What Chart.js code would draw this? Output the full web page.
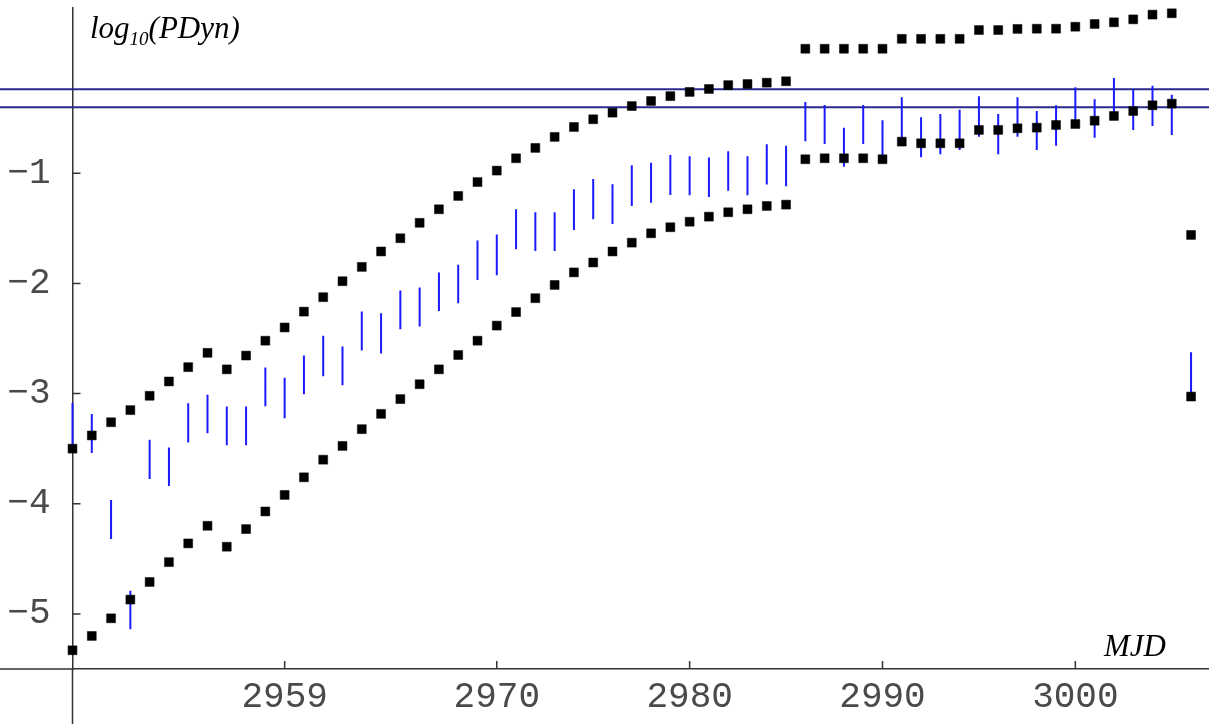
<!DOCTYPE html>
<html>
<head>
<meta charset="utf-8">
<title>log10(PDyn) vs MJD</title>
<script src="https://cdn.jsdelivr.net/npm/chart.js@4/dist/chart.umd.min.js"></script>
<style>
  body { margin: 0; background: #fff; }
  #chart { display: block; }
</style>
</head>
<body>
<canvas id="chart" width="1209" height="724"></canvas>
<script>
// MJD of each night
const mjd = [2948, 2949, 2950, 2951, 2952, 2953, 2954, 2955, 2956, 2957,
  2958, 2959, 2960, 2961, 2962, 2963, 2964, 2965, 2966, 2967,
  2968, 2969, 2970, 2971, 2972, 2973, 2974, 2975, 2976, 2977,
  2978, 2979, 2980, 2981, 2982, 2983, 2984, 2985, 2986, 2987,
  2988, 2989, 2990, 2991, 2992, 2993, 2994, 2995, 2996, 2997,
  2998, 2999, 3000, 3001, 3002, 3003, 3004, 3005, 3006];

// upper black envelope
const upperLimit = [-3.50, -3.38, -3.26, -3.15, -3.02, -2.89, -2.76, -2.63, -2.78, -2.655,
  -2.52, -2.40, -2.256, -2.125, -1.98, -1.85, -1.71, -1.59, -1.45, -1.327,
  -1.206, -1.08, -0.976, -0.864, -0.77, -0.67, -0.58, -0.51, -0.45, -0.39,
  -0.344, -0.30, -0.262, -0.235, -0.20, -0.19, -0.178, -0.165, 0.13, 0.13,
  0.13, 0.13, 0.13, 0.22, 0.22, 0.22, 0.22, 0.30, 0.30, 0.31,
  0.312, 0.312, 0.33, 0.355, 0.37, 0.397, 0.44, 0.452, -1.56];

// lower black envelope
const lowerLimit = [-5.33, -5.20, -5.04, -4.87, -4.71, -4.53, -4.36, -4.20, -4.39, -4.23,
  -4.07, -3.92, -3.76, -3.60, -3.475, -3.323, -3.184, -3.05, -2.915, -2.78,
  -2.65, -2.52, -2.383, -2.26, -2.134, -2.014, -1.90, -1.81, -1.71, -1.63,
  -1.545, -1.49, -1.44, -1.394, -1.354, -1.327, -1.297, -1.285, -0.873, -0.864,
  -0.864, -0.864, -0.873, -0.713, -0.728, -0.728, -0.728, -0.607, -0.607, -0.592,
  -0.586, -0.562, -0.553, -0.523, -0.48, -0.435, -0.383, -0.368, -3.027];

// blue ranges (bottom / top)
const rangeLow = [-3.485, -3.54, -4.32, -5.14, -3.775, -3.84, -3.445, -3.36, -3.47, -3.47,
  -3.114, -3.223, -3.005, -2.842, -2.924, -2.61, -2.637, -2.416, -2.39, -2.25,
  -2.18, -1.97, -1.926, -1.69, -1.705, -1.705, -1.515, -1.417, -1.46, -1.297,
  -1.267, -1.197, -1.2, -1.215, -1.158, -1.2, -1.103, -1.118, -0.71, -0.734,
  -0.94, -0.734, -0.879, -0.71, -0.855, -0.828, -0.789, -0.668, -0.828, -0.668,
  -0.789, -0.75, -0.577, -0.677, -0.50, -0.607, -0.571, -0.652, -3.027];
const rangeHigh = [-3.085, -3.185, -3.965, -4.79, -3.42, -3.49, -3.087, -3.01, -3.118, -3.118,
  -2.764, -2.857, -2.655, -2.474, -2.573, -2.256, -2.27, -2.065, -2.038, -1.90,
  -1.83, -1.61, -1.557, -1.327, -1.354, -1.354, -1.145, -1.052, -1.10, -0.927,
  -0.904, -0.834, -0.846, -0.858, -0.80, -0.846, -0.737, -0.75, -0.353, -0.38,
  -0.586, -0.38, -0.519, -0.31, -0.492, -0.462, -0.423, -0.30, -0.462, -0.31,
  -0.435, -0.383, -0.22, -0.329, -0.135, -0.238, -0.205, -0.287, -2.624];

// horizontal reference levels
const refLevels = [-0.238, -0.40];

const xTicks = [2959, 2970, 2980, 2990, 3000];
const yTicks = [-5, -4, -3, -2, -1];

const axisColor = '#333';
const labelColor = '#4a4a4a';
const tickFont = { family: 'Liberation Mono', size: 36 };

// vertical segments, one per night, broken by nulls
const rangeSegs = [];
mjd.forEach((m, i) => {
  rangeSegs.push({ x: m, y: rangeLow[i] });
  rangeSegs.push({ x: m, y: rangeHigh[i] });
  rangeSegs.push({ x: m, y: null });
});

// no extra room for end labels
const noPad = s => { s.paddingTop = 0; s.paddingBottom = 0; s.paddingLeft = 0; s.paddingRight = 0; };

const extras = {
  id: 'extras',
  beforeDatasetsDraw(chart) {
    const { ctx, chartArea, scales } = chart;
    ctx.save();
    ctx.strokeStyle = '#2a2a8c';
    ctx.lineWidth = 2;
    refLevels.forEach(v => {
      const py = scales.y.getPixelForValue(v);
      ctx.beginPath();
      ctx.moveTo(0, py);
      ctx.lineTo(chart.width, py);
      ctx.stroke();
    });
    ctx.strokeStyle = axisColor;
    ctx.lineWidth = 1.5;
    ctx.beginPath();
    // axis lines run on past the crossing point
    ctx.moveTo(0, chartArea.bottom);
    ctx.lineTo(chartArea.left, chartArea.bottom);
    ctx.moveTo(chartArea.left, chartArea.bottom);
    ctx.lineTo(chartArea.left, chart.height);
    // inward tick marks
    scales.x.ticks.forEach(t => {
      const px = scales.x.getPixelForValue(t.value);
      ctx.moveTo(px, chartArea.bottom);
      ctx.lineTo(px, chartArea.bottom - 8);
    });
    scales.y.ticks.forEach(t => {
      const py = scales.y.getPixelForValue(t.value);
      ctx.moveTo(chartArea.left, py);
      ctx.lineTo(chartArea.left + 8, py);
    });
    ctx.stroke();
    ctx.restore();
  },
  afterDraw(chart) {
    const ctx = chart.ctx;
    ctx.save();
    ctx.fillStyle = '#000';
    ctx.textBaseline = 'alphabetic';
    ctx.textAlign = 'left';
    const big = 'italic 31px "Liberation Serif"';
    const small = 'italic 19px "Liberation Serif"';
    let x = 90;
    ctx.font = big;
    ctx.fillText('log', x, 38);
    x += ctx.measureText('log').width;
    ctx.font = small;
    ctx.fillText('10', x, 45);
    x += ctx.measureText('10').width;
    ctx.font = big;
    ctx.fillText('(PDyn)', x, 38);
    ctx.fillText('MJD', 1104, 656);
    ctx.restore();
  }
};

new Chart(document.getElementById('chart'), {
  type: 'scatter',
  data: {
    datasets: [
      {
        label: 'upper',
        data: mjd.map((m, i) => ({ x: m, y: upperLimit[i] })),
        pointStyle: 'rect',
        pointRadius: 6.3,
        backgroundColor: '#000',
        borderColor: '#000',
        borderWidth: 0.5,
        clip: false
      },
      {
        label: 'lower',
        data: mjd.map((m, i) => ({ x: m, y: lowerLimit[i] })),
        pointStyle: 'rect',
        pointRadius: 6.3,
        backgroundColor: '#000',
        borderColor: '#000',
        borderWidth: 0.5,
        clip: false
      },
      {
        type: 'line',
        label: 'range',
        data: rangeSegs,
        showLine: true,
        spanGaps: false,
        borderColor: '#1a1aff',
        borderWidth: 2,
        pointRadius: 0,
        clip: false
      }
    ]
  },
  options: {
    responsive: false,
    animation: false,
    devicePixelRatio: 1,
    layout: { autoPadding: false, padding: { top: 8, left: 0, right: 0, bottom: 0 } },
    plugins: { legend: { display: false }, tooltip: { enabled: false } },
    scales: {
      x: {
        type: 'linear',
        min: 2948,
        max: 3006.93,
        afterBuildTicks: s => { s.ticks = xTicks.map(v => ({ value: v })); },
        afterFit: s => { s.height = 55; noPad(s); },
        grid: { display: false },
        border: { display: true, color: axisColor, width: 1.5 },
        ticks: {
          font: tickFont, color: labelColor, padding: -1,
          maxRotation: 0, autoSkip: false,
          callback: v => String(v)
        }
      },
      y: {
        type: 'linear',
        min: -5.5,
        max: 0.5,
        afterBuildTicks: s => { s.ticks = yTicks.map(v => ({ value: v })); },
        afterFit: s => { s.width = 72.5; noPad(s); },
        grid: { display: false },
        border: { display: true, color: axisColor, width: 1.5 },
        ticks: {
          font: tickFont, color: labelColor, padding: 14,
          autoSkip: false,
          callback: v => (v < 0 ? '\u2212' + Math.abs(v) : String(v))
        }
      }
    }
  },
  plugins: [extras]
});
</script>
</body>
</html>
